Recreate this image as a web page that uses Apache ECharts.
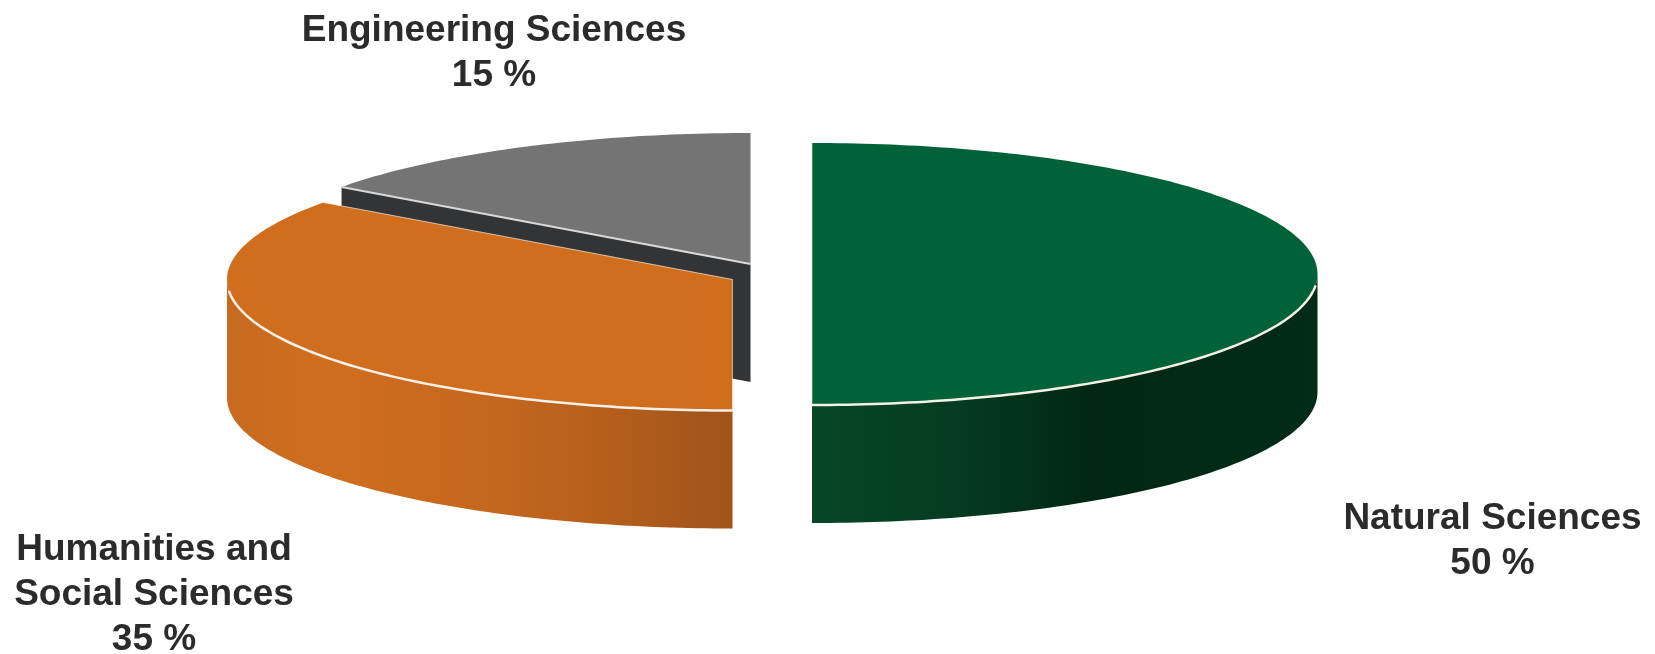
<!DOCTYPE html>
<html>
<head>
<meta charset="utf-8">
<style>html,body{margin:0;padding:0;background:#fff}#c{width:1655px;height:654px}</style>
<script src="https://cdn.jsdelivr.net/npm/echarts@6/dist/echarts.min.js"></script>
</head>
<body>
<div id="c"></div>
<script>
const categories = ['Natural Sciences', 'Humanities and\nSocial Sciences', 'Engineering Sciences'];
const shares = [50, 35, 15];

const TOP_COLORS = ['#01623a', '#d16e1e', '#747474'];
const SIDE_STOPS = [
  [[0, '#074626'], [0.3, '#053b20'], [0.55, '#012713'], [1, '#012c19']],
  [[0, '#c76a1f'], [0.2, '#d06e1f'], [0.55, '#c3661e'], [0.86, '#ac5a1b'], [1, '#a0531a']],
  [[0, '#333436'], [1, '#333436']]
];
const CENTERS = [[812, 274], [732.5, 279.5], [750.5, 264]];
const LABEL_POS = [[1492.5, 541], [154, 595], [494, 53]];
const RX = 505.5, RY = 131, DEPTH = 118;
const RIM_FROM = [95, 180, null];
const RIM_TO = [180, 265, null];

const chart = echarts.init(document.getElementById('c'), null, {renderer: 'canvas'});
const total = shares.reduce((a, b) => a + b, 0);

function pt(c, deg, dy) {
  const r = deg * Math.PI / 180;
  return [c[0] + RX * Math.sin(r), c[1] - RY * Math.cos(r) + (dy || 0)];
}
function arc(c, a, b, dy) {
  const out = [];
  const n = Math.max(2, Math.ceil(Math.abs(b - a)));
  for (let i = 0; i <= n; i++) out.push(pt(c, a + (b - a) * i / n, dy));
  return out;
}

function renderItem(params, api) {
  const i = api.value(0);
  const value = api.value(1);
  let before = 0;
  for (let k = 0; k < i; k++) before += shares[k];
  const a0 = before / total * 360;
  const a1 = (before + value) / total * 360;
  const c = CENTERS[i];
  const children = [];

  // outer side wall: only the front half of the disc can be seen
  const f0 = Math.max(a0, 90), f1 = Math.min(a1, 270);
  if (f1 > f0) {
    const upper = arc(c, f0, f1, 0);
    const lower = arc(c, f0, f1, DEPTH).reverse();
    children.push({
      type: 'polygon',
      shape: {points: upper.concat(lower)},
      style: {fill: {type: 'linear', x: 0, y: 0, x2: 1, y2: 0,
        colorStops: SIDE_STOPS[i].map(s => ({offset: s[0], color: s[1]}))}}
    });
  } else {
    // back slice: only its cut face shows
    const rim = pt(c, a0, 0);
    children.push({
      type: 'polygon',
      shape: {points: [rim, c, [c[0], c[1] + DEPTH], pt(c, a0, DEPTH)]},
      style: {fill: SIDE_STOPS[i][0][1]}
    });
  }

  // top face
  children.push({
    type: 'polygon',
    shape: {points: [c].concat(arc(c, a0, a1, 0))},
    style: {fill: TOP_COLORS[i]}
  });

  // pale highlight edges
  if (RIM_FROM[i] !== null) {
    children.push({
      type: 'polyline',
      shape: {points: arc(c, RIM_FROM[i], RIM_TO[i], 0)},
      style: {fill: null, stroke: '#f5f0e8', lineWidth: 2.5}
    });
    children.push({
      type: 'line',
      shape: {x1: c[0], y1: i === 0 ? c[1] - RY : c[1], x2: c[0], y2: c[1] + RY},
      style: {stroke: 'rgba(255,255,255,0.55)', lineWidth: 1}
    });
  }
  if (i === 1) {
    const t = pt(c, a1, 0);
    children.push({
      type: 'line',
      shape: {x1: t[0], y1: t[1], x2: c[0], y2: c[1]},
      style: {stroke: 'rgba(255,240,220,0.7)', lineWidth: 1}
    });
  }
  if (i === 2) {
    const t = pt(c, a0, 0);
    children.push({
      type: 'line',
      shape: {x1: t[0], y1: t[1], x2: c[0], y2: c[1]},
      style: {stroke: '#d9d9d9', lineWidth: 2}
    });
  }

  // label
  children.push({
    type: 'text',
    x: LABEL_POS[i][0],
    y: LABEL_POS[i][1],
    style: {
      text: categories[i] + '\n' + value + ' %',
      fill: '#2b2b2b',
      font: 'bold 37px "Liberation Sans", Arial, sans-serif',
      lineHeight: 45,
      align: 'center',
      verticalAlign: 'middle'
    }
  });
  return {type: 'group', children};
}

chart.setOption({
  backgroundColor: '#ffffff',
  animation: false,
  series: [{
    type: 'custom',
    coordinateSystem: 'none',
    renderItem,
    silent: true,
    // back slices first so the nearer ones cover them
    data: shares.map((v, i) => [i, v]).reverse()
  }]
});
</script>
</body>
</html>
